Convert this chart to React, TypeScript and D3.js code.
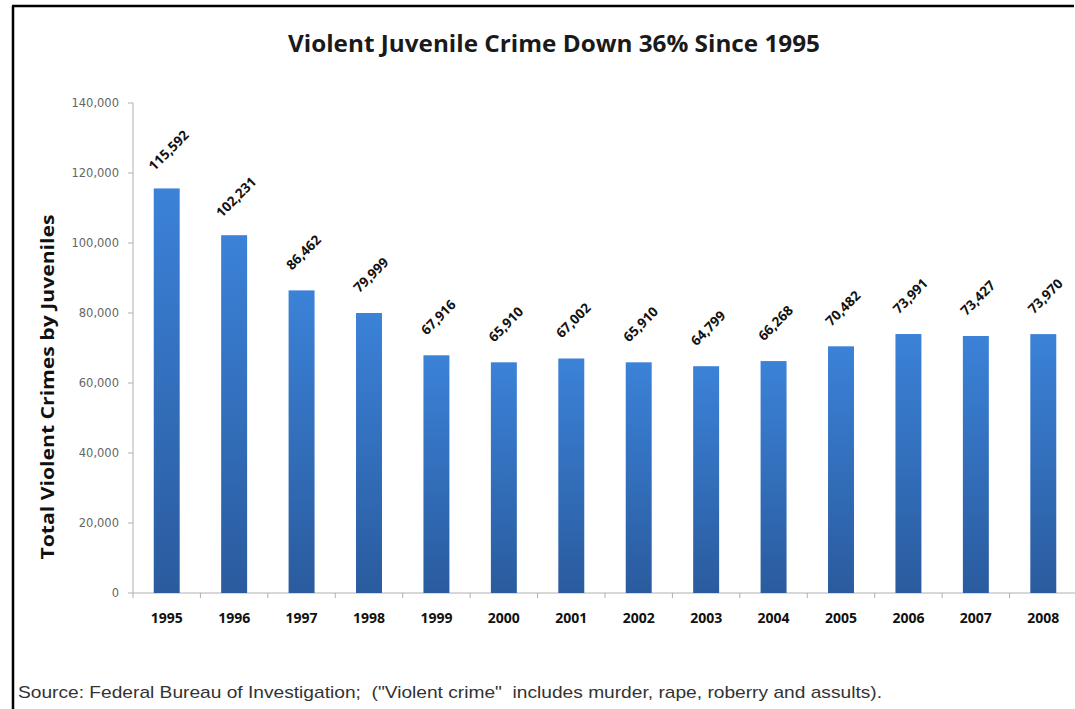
import React from "react";
import * as d3 from "d3";

const years = ["1995","1996","1997","1998","1999","2000","2001","2002","2003","2004","2005","2006","2007","2008"];
const crimes = [115592, 102231, 86462, 79999, 67916, 65910, 67002, 65910, 64799, 66268, 70482, 73991, 73427, 73970];
const yTicks = [0, 20000, 40000, 60000, 80000, 100000, 120000, 140000];

const W = 1075;
const H = 709;
const left = 133;
const right = 1077;
const top = 103;
const bottom = 593;

export default function App() {
  const x = d3.scaleBand<string>().domain(years).range([left, right]).paddingInner(0.615).paddingOuter(0.3075);
  const y = d3.scaleLinear().domain([0, 140000]).range([bottom, top]);
  const fmt = d3.format(",");
  const step = x.step();

  return (
    <svg width={W} height={H} style={{ position: "absolute", left: 0, top: 0, background: "#fff" }}>
      <defs>
        <linearGradient id="barFill" x1="0" y1="0" x2="0" y2="1">
          <stop offset="0%" stopColor="#3b82d8" />
          <stop offset="100%" stopColor="#2a5b9e" />
        </linearGradient>
      </defs>
      <rect x={0} y={0} width={W} height={H} fill="#fff" />
      {/* frame */}
      <line x1={13} y1={6} x2={13} y2={H} stroke="#000" strokeWidth={2.5} />
      <line x1={12} y1={6} x2={1074} y2={6} stroke="#000" strokeWidth={2.5} />

      <text x={288} y={52} textLength={532} lengthAdjust="spacingAndGlyphs" fontFamily="Open Sans" fontWeight="bold" fontSize={23} fill="#1a1a1a">
        Violent Juvenile Crime Down 36% Since 1995
      </text>

      {/* y axis */}
      <line x1={left} y1={top} x2={left} y2={bottom} stroke="#b0b0b0" strokeWidth={1} />
      {yTicks.map((t) => (
        <g key={t}>
          <line x1={left - 5} x2={left} y1={y(t)} y2={y(t)} stroke="#b0b0b0" />
          <text x={left - 14} y={y(t)} dy="0.35em" textAnchor="end" fontFamily="DejaVu Sans" fontSize={11.5} fill="#666">
            {fmt(t)}
          </text>
        </g>
      ))}
      <text
        transform={`translate(54,387) rotate(-90)`}
        textAnchor="middle"
        textLength={345}
        lengthAdjust="spacingAndGlyphs"
        fontFamily="Open Sans"
        fontWeight="bold"
        fontSize={18}
        fill="#111"
      >
        Total Violent Crimes by Juveniles
      </text>

      {/* x axis */}
      <line x1={left} y1={bottom} x2={right} y2={bottom} stroke="#b0b0b0" strokeWidth={1} />
      {d3.range(years.length + 1).map((i) => (
        <line key={i} x1={left + i * step} x2={left + i * step} y1={bottom} y2={bottom + 5} stroke="#b0b0b0" />
      ))}

      {years.map((yr, i) => {
        const cx = (x(yr) as number) + x.bandwidth() / 2;
        const v = crimes[i];
        return (
          <g key={yr}>
            <rect x={x(yr)} y={y(v)} width={x.bandwidth()} height={bottom - y(v)} fill="url(#barFill)" />
            <text
              transform={`translate(${cx + 2},${y(v) - 38}) rotate(-45)`}
              textAnchor="middle"
              dy="0.35em"
              fontFamily="Open Sans"
              fontWeight="bold"
              fontSize={13.5}
              fill="#111"
            >
              {fmt(v)}
            </text>
            <text x={cx} y={623} textAnchor="middle" fontFamily="Open Sans" fontWeight="bold" fontSize={14} fill="#111">
              {yr}
            </text>
          </g>
        );
      })}

      <text x={18} y={698} textLength={864} lengthAdjust="spacingAndGlyphs" fontFamily="Liberation Sans" fontSize={17} fill="#333" style={{ whiteSpace: "pre" }}>
        {'Source: Federal Bureau of Investigation;  ("Violent crime"  includes murder, rape, roberry and assults).'}
      </text>
    </svg>
  );
}
